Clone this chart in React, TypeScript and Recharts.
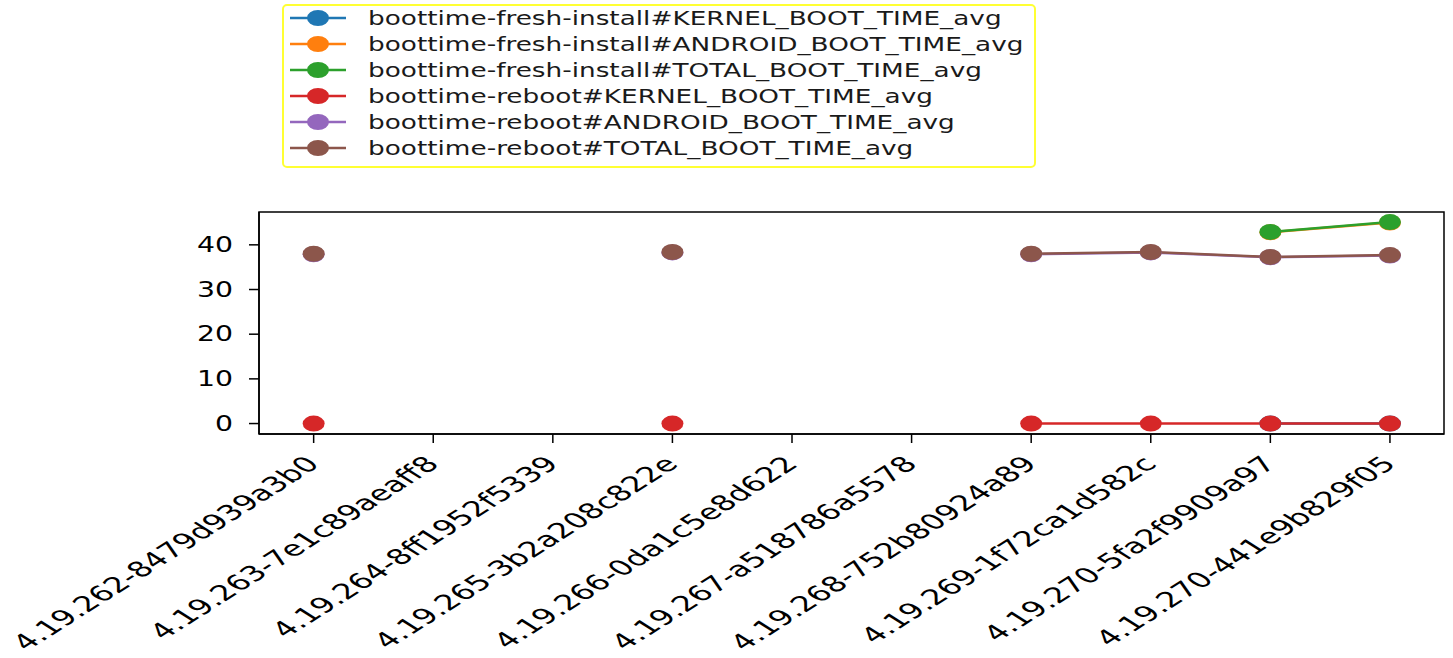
import React from 'react';
import { LineChart, Line, XAxis, YAxis, Legend, ReferenceArea } from 'recharts';

const categories = [
  '4.19.262-8479d939a3b0',
  '4.19.263-7e1c89aeaff8',
  '4.19.264-8ff1952f5339',
  '4.19.265-3b2a208c822e',
  '4.19.266-0da1c5e8d622',
  '4.19.267-a518786a5578',
  '4.19.268-752b80924a89',
  '4.19.269-1f72ca1d582c',
  '4.19.270-5fa2f9909a97',
  '4.19.270-441e9b829f05',
];

const freshKernel = [null, null, null, null, null, null, null, null, 0, 0];
const freshAndroid = [null, null, null, null, null, null, null, null, 42.8, 45.0];
const freshTotal = [null, null, null, null, null, null, null, null, 42.9, 45.1];
const rebootKernel = [0, null, null, 0, null, null, 0, 0, 0, 0];
const rebootAndroid = [37.9, null, null, 38.3, null, null, 37.9, 38.3, 37.2, 37.6];
const rebootTotal = [38.0, null, null, 38.4, null, null, 38.0, 38.4, 37.3, 37.7];

const yTicks = [0, 10, 20, 30, 40];
const xTicks = categories.map((_, i) => i);

const series = [
  { key: 'fk', name: 'boottime-fresh-install#KERNEL_BOOT_TIME_avg', color: '#1f77b4', values: freshKernel },
  { key: 'fa', name: 'boottime-fresh-install#ANDROID_BOOT_TIME_avg', color: '#ff7f0e', values: freshAndroid },
  { key: 'ft', name: 'boottime-fresh-install#TOTAL_BOOT_TIME_avg', color: '#2ca02c', values: freshTotal },
  { key: 'rk', name: 'boottime-reboot#KERNEL_BOOT_TIME_avg', color: '#d62728', values: rebootKernel },
  { key: 'ra', name: 'boottime-reboot#ANDROID_BOOT_TIME_avg', color: '#9467bd', values: rebootAndroid },
  { key: 'rt', name: 'boottime-reboot#TOTAL_BOOT_TIME_avg', color: '#8c564b', values: rebootTotal },
];

const data = categories.map((label, i) => {
  const row: any = { x: i, label };
  series.forEach((s) => {
    row[s.key] = s.values[i];
  });
  return row;
});

const FONT = 'DejaVu Sans';
const X_DOMAIN: [number, number] = [-0.457, 9.452];
const Y_DOMAIN: [number, number] = [-2.34, 47.35];

const XTick = (props: any) => {
  const { x, y, payload } = props;
  return (
    <g transform={`translate(${x},${y}) scale(1.58,1) rotate(-45)`}>
      <text x={0} y={0} dx={-9} dy="0.73em" textAnchor="end" fontSize={21.2} fontFamily={FONT} fill="#000">
        {categories[payload.value]}
      </text>
    </g>
  );
};

const YTick = (props: any) => {
  const { x, y, payload } = props;
  return (
    <g transform={`translate(${x},${y}) scale(1.38,1)`}>
      <text x={0} y={0} textAnchor="end" dominantBaseline="central" fontSize={20.5} fontFamily={FONT} fill="#000">
        {payload.value}
      </text>
    </g>
  );
};

const makeDot = (color: string) => (props: any) => {
  const { cx, cy, index } = props;
  if (cx == null || cy == null || Number.isNaN(cy)) return <g key={`d-${index}`} />;
  return <ellipse key={`d-${index}`} cx={cx} cy={cy} rx={11} ry={8} fill={color} />;
};

const LegendBox = () => {
  const rowY = [14, 40, 66, 92, 118, 144];
  return (
    <svg width={754} height={164} style={{ display: 'block' }}>
      <rect x={1} y={1} width={752} height={162} rx={4} ry={4} fill="#fff" stroke="#ffff33" strokeWidth={2} />
      {series.map((s, i) => (
        <g key={s.key}>
          <line x1={8} x2={64} y1={rowY[i]} y2={rowY[i]} stroke={s.color} strokeWidth={2.5} />
          <ellipse cx={36} cy={rowY[i]} rx={11} ry={8} fill={s.color} />
          <g transform={`translate(86,${rowY[i]}) scale(1.4,1)`}>
            <text x={0} y={0} dominantBaseline="central" fontSize={18.8} fontFamily={FONT} fill="#1a1a1a">
              {s.name}
            </text>
          </g>
        </g>
      ))}
    </svg>
  );
};

export default function App() {
  return (
    <div style={{ position: 'absolute', left: 0, top: 0, width: 1453, height: 658, background: '#fff' }}>
      <LineChart
        width={1453}
        height={658}
        data={data}
        margin={{ top: 212, right: 9, bottom: 0, left: 0 }}
      >
        <XAxis
          dataKey="x"
          type="number"
          domain={X_DOMAIN}
          ticks={xTicks}
          interval={0}
          allowDataOverflow
          height={224}
          tickSize={9}
          tickMargin={5}
          tick={<XTick />}
          axisLine={{ stroke: '#000', strokeWidth: 1.5 }}
          tickLine={{ stroke: '#000', strokeWidth: 1.5 }}
        />
        <YAxis
          type="number"
          domain={Y_DOMAIN}
          ticks={yTicks}
          interval={0}
          allowDataOverflow
          width={259}
          tickSize={10}
          tickMargin={16}
          tick={<YTick />}
          axisLine={{ stroke: '#000', strokeWidth: 1.5 }}
          tickLine={{ stroke: '#000', strokeWidth: 1.5 }}
        />
        <ReferenceArea
          x1={X_DOMAIN[0]}
          x2={X_DOMAIN[1]}
          y1={Y_DOMAIN[0]}
          y2={Y_DOMAIN[1]}
          fill="none"
          fillOpacity={0}
          stroke="#000"
          strokeWidth={1.5}
          ifOverflow="visible"
        />
        {series.map((s) => (
          <Line
            key={s.key}
            dataKey={s.key}
            name={s.name}
            stroke={s.color}
            strokeWidth={2.5}
            dot={makeDot(s.color)}
            activeDot={false}
            connectNulls={false}
            isAnimationActive={false}
          />
        ))}
        <Legend
          layout="vertical"
          align="center"
          verticalAlign="middle"
          wrapperStyle={{ left: 282, top: 4, width: 754, height: 164 }}
          content={<LegendBox />}
        />
      </LineChart>
    </div>
  );
}
